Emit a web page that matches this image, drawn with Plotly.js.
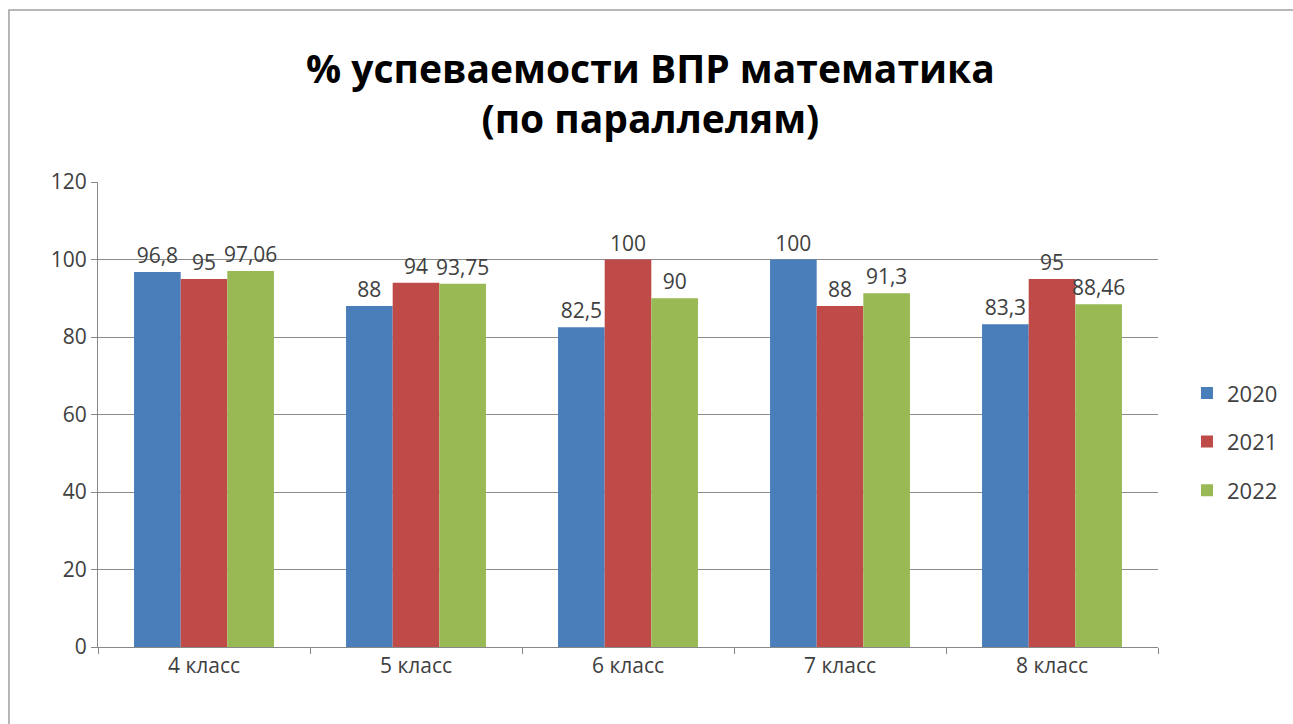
<!DOCTYPE html>
<html><head><meta charset="utf-8">
<script src="https://cdn.plot.ly/plotly-3.0.1.min.js"></script>
<style>html,body{margin:0;padding:0;background:#fff;}#chart{width:1293px;height:724px;}</style>
</head><body><div id="chart"></div>
<script>
const categories = ["4 класс", "5 класс", "6 класс", "7 класс", "8 класс"];
const seriesNames = ["2020", "2021", "2022"];
const v2020 = [96.8, 88, 82.5, 100, 83.3];
const v2021 = [95, 94, 100, 88, 95];
const v2022 = [97.06, 93.75, 90, 91.3, 88.46];
const colors = ["#4a7ebb", "#be4b48", "#98b954"];
const yTicks = [0, 20, 40, 60, 80, 100, 120];

const fmt = v => String(v).replace('.', ',');
const all = [v2020, v2021, v2022];
const traces = all.map((vals, i) => ({
  type: 'bar', name: seriesNames[i], legendgroup: 'g' + i, x: categories, y: vals,
  marker: {color: colors[i]},
  text: vals.map(fmt), textposition: 'outside', cliponaxis: false, constraintext: 'none',
  textfont: {family: 'Open Sans, sans-serif', size: 21, color: '#404040'},
  hoverinfo: 'skip'
}));

const layout = {
  width: 1293, height: 724,
  paper_bgcolor: '#fff', plot_bgcolor: '#fff',
  margin: {l: 98, r: 135, t: 182, b: 77},
  title: {text: '<b>% успеваемости ВПР математика<br>(по параллелям)</b>',
    font: {family: 'Open Sans, sans-serif', size: 39, color: '#000'},
    x: 0.503, xanchor: 'center', y: 0.886, yanchor: 'middle'},
  barmode: 'group', bargap: 0.34, bargroupgap: 0,
  showlegend: true,
  legend: {xref: 'container', yref: 'container', x: 0.918, y: 0.39, xanchor: 'left', yanchor: 'middle',
    font: {family: 'Open Sans, sans-serif', size: 22, color: '#404040'},
    itemwidth: 30, tracegroupgap: 17},
  xaxis: {type: 'category', showline: true, linecolor: '#888', linewidth: 1,
    ticks: 'outside', tickson: 'boundaries', ticklen: 6, tickcolor: '#888',
    tickfont: {family: 'Open Sans, sans-serif', size: 21, color: '#404040'},
    showgrid: false},
  yaxis: {range: [0, 120], tickvals: yTicks, showline: true, linecolor: '#888',
    ticks: 'outside', ticklen: 6, tickcolor: '#888',
    gridcolor: '#8c8c8c', gridwidth: 1, zeroline: false,
    tickfont: {family: 'Open Sans, sans-serif', size: 21, color: '#404040'}},
  shapes: [{type: 'rect', xref: 'paper', yref: 'paper', x0: -0.084, x1: 1.2, y0: -0.2, y1: 1.37,
    line: {color: '#a0a0a0', width: 1.5}}]
};
Plotly.newPlot('chart', traces, layout, {displayModeBar: false, staticPlot: true});
</script></body></html>
